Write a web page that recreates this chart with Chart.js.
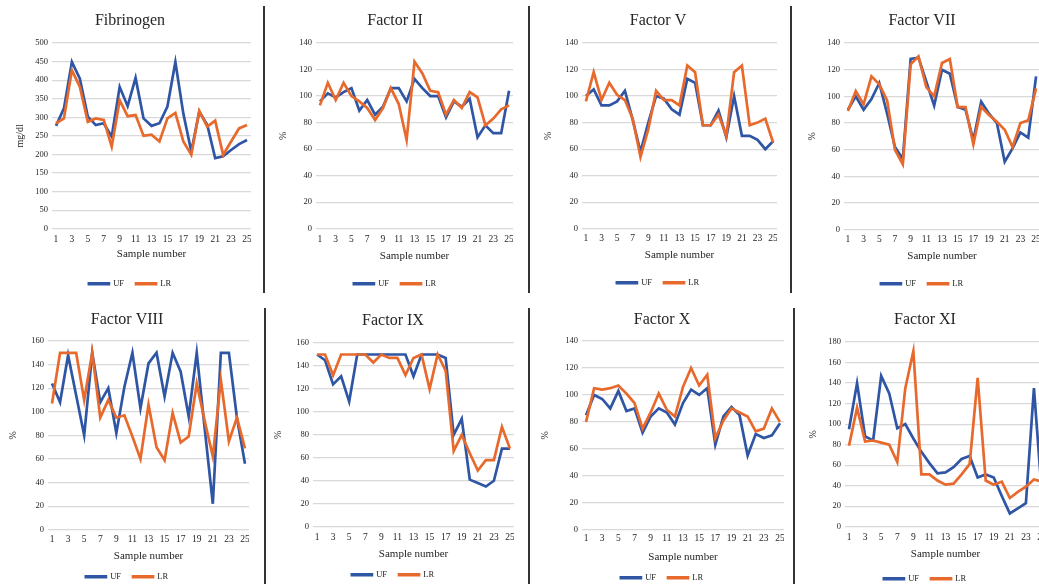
<!DOCTYPE html>
<html>
<head>
<meta charset="utf-8">
<script src="https://cdn.jsdelivr.net/npm/chart.js@4.4.1/dist/chart.umd.min.js"></script>
<style>
  html, body { margin: 0; padding: 0; background: #fff; }
  body { width: 1039px; height: 584px; overflow: hidden; position: relative; }
  canvas { position: absolute; }
  .rule { position: absolute; width: 2px; background: #333; }
</style>
</head>
<body>
<div class="rule" style="left:263px;top:6px;height:287px"></div>
<div class="rule" style="left:528px;top:6px;height:287px"></div>
<div class="rule" style="left:790px;top:6px;height:287px"></div>
<div class="rule" style="left:264px;top:308px;height:276px"></div>
<div class="rule" style="left:528px;top:308px;height:276px"></div>
<div class="rule" style="left:793px;top:308px;height:276px"></div>
<script>
// Sample numbers and the labelled ticks on the x axis
const samples = [1,2,3,4,5,6,7,8,9,10,11,12,13,14,15,16,17,18,19,20,21,22,23,24,25];
const sampleTicks = [1,3,5,7,9,11,13,15,17,19,21,23,25];

// Fibrinogen (mg/dl)
const fibrinogenUF = [277,324,449,404,302,279,284,248,382,330,406,297,277,284,329,449,310,208,315,280,190,195,212,228,239];
const fibrinogenLR = [284,297,427,382,288,297,293,221,346,303,306,250,253,235,297,312,235,199,317,275,291,199,235,270,279];
// Factor II (%)
const factor2UF = [96,102,99,103,106,89,97,86,92,106,106,96,113,106,100,100,84,96,92,98,69,78,72,72,104];
const factor2LR = [93,110,97,110,100,96,91,82,91,106,94,67,126,117,104,103,86,97,91,103,99,78,83,90,93];
// Factor V (%)
const factor5UF = [100,105,93,93,96,104,82,58,80,100,98,90,86,113,110,78,78,89,69,100,70,70,67,60,66];
const factor5LR = [96,118,97,110,101,97,83,54,75,104,97,97,93,123,118,78,78,86,70,118,123,78,80,83,65];
// Factor VII (%)
const factor7UF = [90,100,90,98,110,87,62,53,128,129,111,93,120,117,92,90,67,96,87,80,51,61,73,69,115];
const factor7LR = [89,104,94,115,109,97,60,49,124,130,107,100,125,128,92,92,64,92,86,81,75,62,80,82,106];
// Factor VIII (%)
const factor8UF = [124,108,148,114,80,150,108,120,82,121,150,103,141,150,113,150,134,96,150,85,22,150,150,95,56];
const factor8LR = [107,150,150,150,110,150,95,110,95,97,79,60,106,70,59,99,74,79,124,92,62,127,75,95,69];
// Factor IX (%)
const factor9UF = [150,145,124,131,109,150,150,150,150,150,150,150,131,150,150,150,147,80,94,41,38,35,40,68,68];
const factor9LR = [150,150,132,150,150,150,150,143,150,147,147,132,147,150,120,150,136,66,80,64,49,58,58,87,68];
// Factor X (%)
const factor10UF = [85,100,97,90,103,88,90,72,84,90,87,78,94,104,100,105,63,84,91,85,55,71,68,70,79];
const factor10LR = [80,105,104,105,107,101,94,75,87,101,89,84,106,120,107,115,68,81,90,87,84,73,75,90,80];
// Factor XI (%)
const factor11UF = [95,140,88,84,147,130,96,100,86,73,62,52,53,58,66,69,48,51,48,30,13,18,23,135,30];
const factor11LR = [79,116,83,84,82,80,63,135,171,51,51,45,41,42,51,61,145,45,41,44,28,34,39,46,44];

const BLUE = '#2f55a5';
const ORANGE = '#e8692c';
const INK = '#262626';
const SERIF = "'Liberation Serif', 'Times New Roman', serif";

// Panel placement on the page (pixel positions of title, plot area, axis text and legend)
const panels = [
  { title: 'Fibrinogen', uf: fibrinogenUF, lr: fibrinogenLR, yMax: 500, yStep: 50, yTitle: 'mg/dl',
    top: 0, titleX: 130, titleY: 21, chartTop: 43, chartBottom: 229, chartLeft: 52, chartRight: 251,
    xTickY: 240, xTitleY: 254, legendY: 284, yTitleX: 20 },
  { title: 'Factor II', uf: factor2UF, lr: factor2LR, yMax: 140, yStep: 20, yTitle: '%',
    top: 0, titleX: 395, titleY: 21, chartTop: 43, chartBottom: 229, chartLeft: 316, chartRight: 513,
    xTickY: 240, xTitleY: 256, legendY: 284, yTitleX: 283 },
  { title: 'Factor V', uf: factor5UF, lr: factor5LR, yMax: 140, yStep: 20, yTitle: '%',
    top: 0, titleX: 658, titleY: 21, chartTop: 43, chartBottom: 229, chartLeft: 582, chartRight: 777,
    xTickY: 239, xTitleY: 255, legendY: 283, yTitleX: 548 },
  { title: 'Factor VII', uf: factor7UF, lr: factor7LR, yMax: 140, yStep: 20, yTitle: '%',
    top: 0, titleX: 922, titleY: 21, chartTop: 43, chartBottom: 230, chartLeft: 844, chartRight: 1040,
    xTickY: 240, xTitleY: 256, legendY: 284, yTitleX: 812 },
  { title: 'Factor VIII', uf: factor8UF, lr: factor8LR, yMax: 160, yStep: 20, yTitle: '%',
    top: 292, titleX: 127, titleY: 320, chartTop: 341, chartBottom: 530, chartLeft: 48, chartRight: 249,
    xTickY: 540, xTitleY: 556, legendY: 577, yTitleX: 13 },
  { title: 'Factor IX', uf: factor9UF, lr: factor9LR, yMax: 160, yStep: 20, yTitle: '%',
    top: 292, titleX: 393, titleY: 321, chartTop: 343, chartBottom: 527, chartLeft: 313, chartRight: 514,
    xTickY: 538, xTitleY: 554, legendY: 575, yTitleX: 278 },
  { title: 'Factor X', uf: factor10UF, lr: factor10LR, yMax: 140, yStep: 20, yTitle: '%',
    top: 292, titleX: 662, titleY: 320, chartTop: 341, chartBottom: 530, chartLeft: 582, chartRight: 784,
    xTickY: 539, xTitleY: 557, legendY: 578, yTitleX: 545 },
  { title: 'Factor XI', uf: factor11UF, lr: factor11LR, yMax: 180, yStep: 20, yTitle: '%',
    top: 292, titleX: 925, titleY: 320, chartTop: 342, chartBottom: 527, chartLeft: 845, chartRight: 1046,
    xTickY: 538, xTitleY: 554, legendY: 579, yTitleX: 813 }
];

const TITLE_SIZE = 16, XTITLE_SIZE = 11, YTITLE_SIZE = 10, XTICK_SIZE = 9.5, YTICK_SIZE = 8.5;
const LEGEND_SIZE = 8.5, LEGEND_PAD = 12;

function drawPanel(p) {
  const left = 2 * p.titleX - p.chartRight;          // titles and legends centre on the canvas
  const width = p.chartRight - left;
  const height = p.legendY + 10 + LEGEND_SIZE / 2 - p.top;
  const legendHeight = LEGEND_SIZE + LEGEND_PAD + 10;
  const xAxisHeight = p.top + height - legendHeight - p.chartBottom;
  const yAxisWidth = p.chartLeft - left;
  const titleLH = TITLE_SIZE * 1.2;

  const canvas = document.createElement('canvas');
  canvas.width = width; canvas.height = height;
  canvas.style.left = left + 'px'; canvas.style.top = p.top + 'px';
  canvas.style.width = width + 'px'; canvas.style.height = height + 'px';
  document.body.appendChild(canvas);

  const series = (vals) => samples.map((s, i) => ({ x: s, y: vals[i] }));

  new Chart(canvas, {
    type: 'line',
    data: {
      datasets: [
        { label: 'UF', data: series(p.uf), borderColor: BLUE, backgroundColor: BLUE,
          borderWidth: 2.7, pointRadius: 0, tension: 0, order: 1 },
        { label: 'LR', data: series(p.lr), borderColor: ORANGE, backgroundColor: ORANGE,
          borderWidth: 2.7, pointRadius: 0, tension: 0, order: 0 }
      ]
    },
    options: {
      responsive: false,
      animation: false,
      events: [],
      layout: { padding: 0 },
      plugins: {
        tooltip: { enabled: false },
        title: {
          display: true, text: p.title, color: INK,
          font: { family: SERIF, size: TITLE_SIZE, weight: 'normal', lineHeight: 1.2 },
          padding: { top: p.titleY - p.top - titleLH / 2, bottom: p.chartTop - p.titleY - titleLH / 2 }
        },
        legend: {
          position: 'bottom',
          labels: {
            color: INK, boxWidth: 20, boxHeight: 1, padding: LEGEND_PAD,
            font: { family: SERIF, size: LEGEND_SIZE },
            sort: (a, b) => a.datasetIndex - b.datasetIndex
          }
        }
      },
      scales: {
        x: {
          type: 'linear',
          min: samples[0] - 0.5,
          max: samples[samples.length - 1] + 0.5,
          afterBuildTicks: (scale) => { scale.ticks = sampleTicks.map(v => ({ value: v })); },
          afterFit: (scale) => {
            scale.height = xAxisHeight;
            scale.paddingLeft = 0;
            scale.paddingRight = 0;
          },
          grid: { display: false, drawTicks: false },
          border: { display: false },
          ticks: {
            autoSkip: false, maxRotation: 0, color: INK,
            padding: p.xTickY - p.chartBottom - XTICK_SIZE * 0.6,
            font: { family: SERIF, size: XTICK_SIZE },
            callback: (v) => String(v)
          },
          title: {
            display: true, text: 'Sample number', color: INK,
            font: { family: SERIF, size: XTITLE_SIZE, lineHeight: 1.2 },
            padding: { top: 0, bottom: p.chartBottom + xAxisHeight - XTITLE_SIZE * 0.6 - p.xTitleY }
          }
        },
        y: {
          min: 0, max: p.yMax,
          afterFit: (scale) => { scale.width = yAxisWidth; },
          grid: { color: '#d9d9d9', lineWidth: 1.2, drawTicks: false },
          border: { display: false },
          ticks: { stepSize: p.yStep, padding: 4, color: INK, font: { family: SERIF, size: YTICK_SIZE } },
          title: {
            display: true, text: p.yTitle, color: INK,
            font: { family: SERIF, size: YTITLE_SIZE, lineHeight: 1.2 },
            padding: { top: p.yTitleX - left - YTITLE_SIZE * 0.6, bottom: 0 }
          }
        }
      }
    }
  });
}

panels.forEach(drawPanel);
</script>
</body>
</html>
